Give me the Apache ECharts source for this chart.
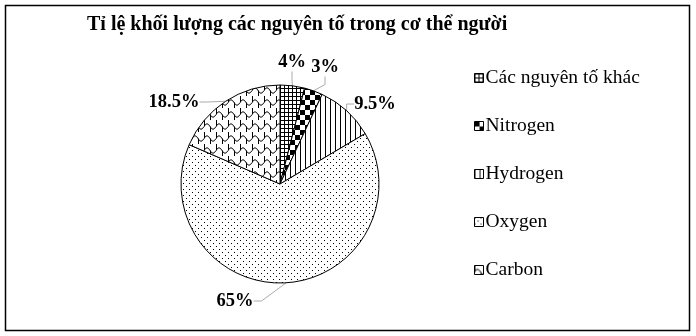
<!DOCTYPE html>
<html><head><meta charset="utf-8">
<script src="https://cdn.jsdelivr.net/npm/echarts@6/dist/echarts.min.js"></script>
<style>html,body{margin:0;padding:0;background:#fff}#c{width:696px;height:336px}</style>
</head><body><div id="c"></div>
<script>
const titleText = 'Tỉ lệ khối lượng các nguyên tố trong cơ thể người';
const categories = ['Các nguyên tố khác', 'Nitrogen', 'Hydrogen', 'Oxygen', 'Carbon'];
const values = [4, 3, 9.5, 65, 18.5];
const labels = ['4%', '3%', '9.5%', '65%', '18.5%'];

function tile(w, h, draw) {
  const c = document.createElement('canvas');
  c.width = w; c.height = h;
  const g = c.getContext('2d');
  g.fillStyle = '#fff'; g.fillRect(0, 0, w, h);
  g.fillStyle = '#000'; g.strokeStyle = '#000'; g.lineWidth = 1;
  draw(g);
  return { image: c, repeat: 'repeat' };
}
const patterns = [
  tile(4, 4, g => { g.fillRect(0, 0, 4, 1); g.fillRect(0, 0, 1, 4); }),
  tile(10, 10, g => { g.fillRect(0, 0, 5, 5); g.fillRect(5, 5, 5, 5); }),
  tile(5, 5, g => { g.fillRect(0, 0, 1, 5); }),
  tile(6, 6, g => { g.fillRect(0, 0, 1, 1); g.fillRect(3, 3, 1, 1); }),
  tile(12, 12, g => {
    g.beginPath();
    g.moveTo(0, 6.5); g.quadraticCurveTo(3, 1, 6, 6.5); g.quadraticCurveTo(9, 12, 12, 6.5);
    g.moveTo(0.5, 0); g.lineTo(0.5, 6.5);
    g.moveTo(6.5, 6.5); g.lineTo(6.5, 12);
    g.stroke();
  })
];
// label centres
const labelSpots = [[292, 62], [325, 67], [375, 104], [235, 301], [174, 102]];

const chart = echarts.init(document.getElementById('c'));
chart.setOption({
  animation: false,
  graphic: [{ type: 'rect', shape: { x: 5.5, y: 5.5, width: 684, height: 325 }, style: { fill: 'none', stroke: '#000', lineWidth: 1.5 } }],
  title: { text: titleText, left: 82, top: 10,
    textStyle: { fontFamily: 'Liberation Serif', fontWeight: 'bold', fontSize: 20, color: '#000' } },
  legend: {
    orient: 'vertical', left: 469, top: 63, itemWidth: 9, itemHeight: 9, itemGap: 28,
    icon: 'rect',
    itemStyle: { borderColor: '#000', borderWidth: 1 },
    textStyle: { fontFamily: 'Liberation Serif', fontSize: 19.5, color: '#000', padding: [0, 0, 0, -3] },
    data: categories
  },
  series: [{
    type: 'pie', center: [280, 184], radius: 99, startAngle: 90, clockwise: true,
    data: categories.map((n, i) => ({ name: n, value: values[i],
      itemStyle: { color: patterns[i] },
      label: { formatter: labels[i] } })),
    itemStyle: { borderColor: '#000', borderWidth: 1 },
    label: { show: true, position: 'outside', fontFamily: 'Liberation Serif', fontWeight: 'bold', fontSize: 18.5, color: '#000' },
    labelLine: { show: true, length: 14, length2: 8, lineStyle: { color: '#aaa', width: 1 } },
    labelLayout: function (p) {
      const s = labelSpots[p.dataIndex];
      return { x: s[0], y: s[1], align: 'center', verticalAlign: 'middle' };
    }
  }]
});
</script></body></html>
